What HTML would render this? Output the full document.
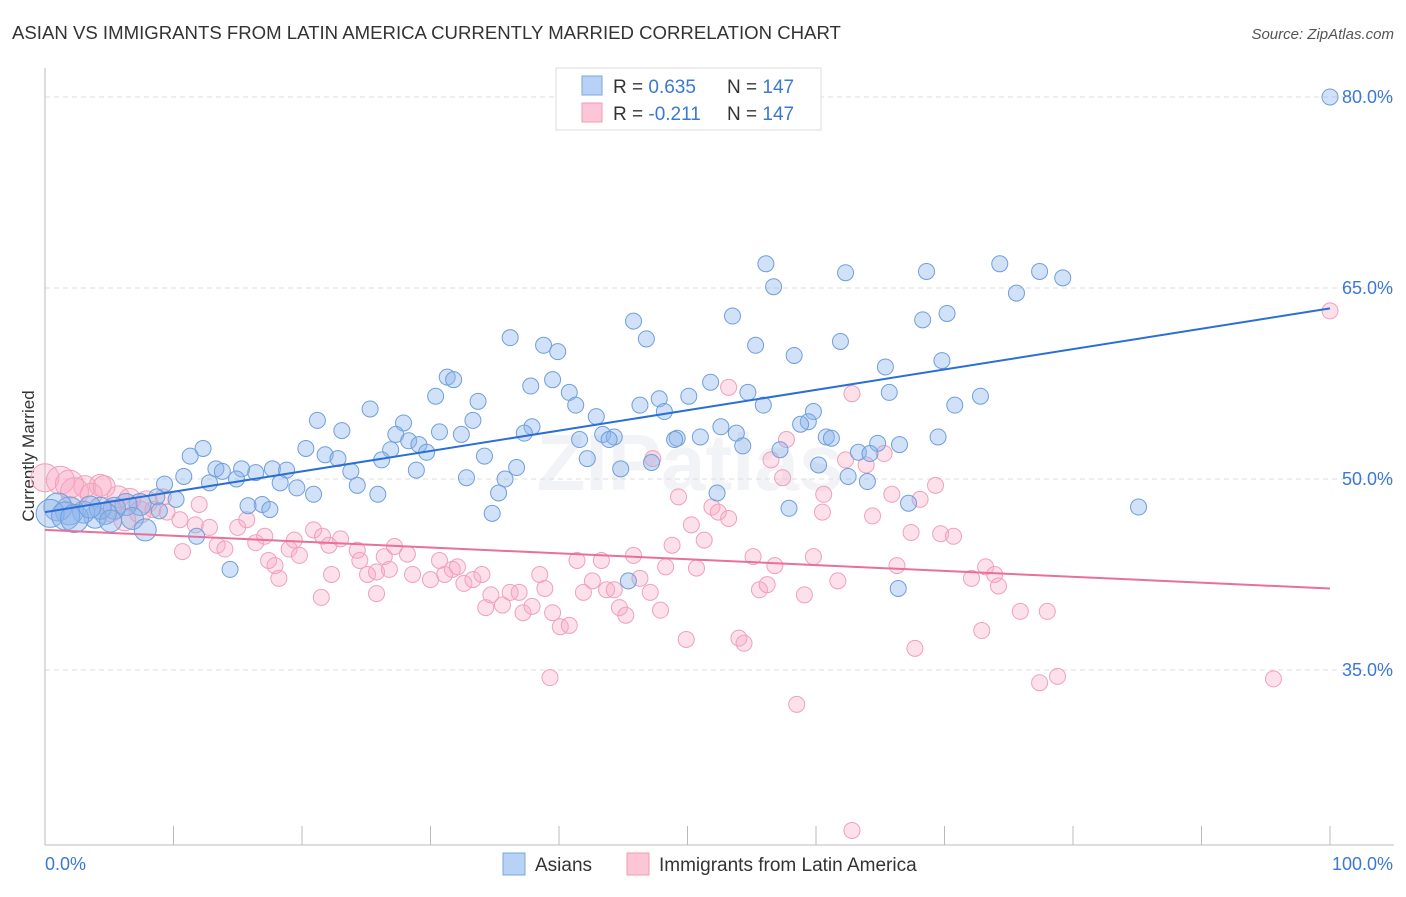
<!DOCTYPE html>
<html><head><meta charset="utf-8"><style>
body{margin:0;background:#fff;font-family:"Liberation Sans",sans-serif;}
svg text{font-family:"Liberation Sans",sans-serif;}
</style></head><body>
<svg id="chart" width="1406" height="892">
<text x="12" y="39" font-size="18.6" fill="#333">ASIAN VS IMMIGRANTS FROM LATIN AMERICA CURRENTLY MARRIED CORRELATION CHART</text>
<text x="1394" y="39" font-size="15" fill="#555" font-style="italic" text-anchor="end">Source: ZipAtlas.com</text>
<text x="34" y="456" font-size="17" fill="#333" text-anchor="middle" transform="rotate(-90 34 456)">Currently Married</text>
<text x="690" y="490" font-size="80" fill="#d8dde6" opacity="0.35" text-anchor="middle" font-weight="bold">ZIPatlas</text>
<g id="grid"></g><g id="pts"></g><g id="lines"></g>
<g>
<rect x="556" y="68" width="265" height="62" fill="#fff" stroke="#ddd"/>
<rect x="582" y="76" width="20" height="19" fill="#b8d2f5" stroke="#7aa5e0"/>
<rect x="582" y="103" width="20" height="19" fill="#fcc6d6" stroke="#f09ab5"/>
<text x="613" y="93" font-size="19" fill="#333">R = <tspan fill="#3a78d4">0.635</tspan></text>
<text x="727" y="93" font-size="19" fill="#333">N = <tspan fill="#3a78d4">147</tspan></text>
<text x="613" y="120" font-size="19" fill="#333">R = <tspan fill="#3a78d4">-0.211</tspan></text>
<text x="727" y="120" font-size="19" fill="#333">N = <tspan fill="#3a78d4">147</tspan></text>
</g>
<g>
<rect x="503" y="853" width="22" height="22" fill="#b8d2f5" stroke="#7aa5e0"/>
<text x="535" y="871" font-size="19" fill="#333">Asians</text>
<rect x="627" y="853" width="22" height="22" fill="#fcc6d6" stroke="#f09ab5"/>
<text x="659" y="871" font-size="19" fill="#333">Immigrants from Latin America</text>
</g>
</svg>
<script>
const yTicks=[80,65,50,35];
const xTickLabels=["0.0%","100.0%"];
const blueX=[100,56.1,62.3,68.6,74.3,77.4,79.2,56.7,75.6,45.8,53.5,68.3,70.2,36.2,46.8,38.8,39.9,55.3,61.9,58.3,69.8,65.4,31.3,31.8,39.5,37.8,51.8,40.8,30.4,33.7,54.7,50.1,47.8,46.3,72.8,65.7,25.3,41.3,55.9,70.8,48.2,42.9,21.2,27.9,33.3,59.8,59.4,58.8,37.9,52.6,23.1,30.7,37.3,32.4,27.3,43.4,44.3,49.2,51.0,53.8,60.8,61.2,69.5,12.3,20.3,28.3,29.1,41.6,43.9,49.0,64.8,66.5,11.3,21.8,26.9,29.7,54.3,57.2,63.3,64.2,22.8,26.2,34.2,42.2,47.2,60.2,10.8,13.3,13.8,15.3,16.4,17.7,18.8,23.8,28.9,32.8,36.7,44.8,62.5,64.0,12.8,14.9,18.3,19.6,24.3,35.8,9.3,20.9,25.9,35.3,52.3,10.2,8.7,16.9,17.5,15.8,67.2,85.1,57.9,34.8,8.9,7.4,6.3,5.4,4.7,3.9,3.0,1.9,1.0,0.4,1.6,2.3,4.3,6.8,7.8,5.1,3.5,11.8,14.4,45.4,66.4];
const blueY=[80.0,66.9,66.2,66.3,66.9,66.3,65.8,65.1,64.6,62.4,62.8,62.5,63.0,61.1,61.0,60.5,60.0,60.5,60.8,59.7,59.3,58.8,58.0,57.8,57.8,57.3,57.6,56.8,56.5,56.1,56.8,56.5,56.3,55.8,56.5,56.8,55.5,55.8,55.8,55.8,55.3,54.9,54.6,54.4,54.6,55.3,54.5,54.3,54.1,54.1,53.8,53.7,53.6,53.5,53.5,53.5,53.3,53.2,53.3,53.6,53.3,53.2,53.3,52.4,52.4,53.0,52.7,53.1,53.1,53.1,52.8,52.7,51.8,51.9,52.3,52.1,52.6,52.3,52.1,52.0,51.6,51.5,51.8,51.6,51.3,51.1,50.2,50.8,50.6,50.8,50.5,50.8,50.7,50.6,50.7,50.1,50.9,50.8,50.2,49.8,49.7,50.0,49.7,49.3,49.5,50.0,49.6,48.8,48.8,48.9,48.9,48.4,48.6,48.0,47.6,47.9,48.1,47.8,47.7,47.3,47.5,48.0,48.0,47.7,47.3,47.0,47.4,47.5,47.8,47.3,47.1,46.9,47.7,46.9,46.0,46.7,47.8,45.5,42.9,42.0,41.4];
const pinkX=[100,53.2,62.8,57.7,47.3,56.5,62.3,65.3,63.9,0,1.2,1.9,3.1,4.3,2.3,3.6,4.6,5.7,6.6,7.9,8.4,7.4,5.1,6.2,9.5,10.5,11.7,10.7,12.8,13.4,14.0,15.0,15.7,16.4,17.1,17.4,17.9,18.2,19.0,19.4,19.8,20.9,21.6,22.1,22.3,23.0,21.5,24.3,24.5,25.1,25.8,26.4,26.8,27.2,25.8,28.2,28.6,30.0,30.7,31.1,31.7,32.1,32.6,33.3,34.0,34.3,34.7,35.6,36.2,36.9,37.2,37.9,38.5,38.9,39.5,40.1,40.8,39.3,41.4,41.9,42.6,43.3,43.7,44.3,44.7,45.2,45.8,46.3,47.1,47.9,48.3,48.8,49.3,49.9,50.3,50.7,51.3,51.9,52.4,53.2,54.0,54.4,55.1,55.6,56.2,56.8,57.4,58.5,59.1,59.8,60.5,60.6,61.7,62.8,64.4,65.9,66.3,67.4,67.7,68.1,69.3,69.7,70.7,72.1,72.9,73.2,73.9,74.2,75.9,77.4,78.0,78.8,95.6,12.0,9.2];
const pinkY=[63.2,57.2,56.7,53.1,51.6,51.5,51.5,52.0,51.1,50.1,49.9,49.6,49.4,49.5,49.0,48.8,49.4,48.6,48.4,48.2,47.6,47.4,47.5,46.8,47.4,46.8,46.4,44.3,46.2,44.8,44.5,46.2,46.8,45.0,45.5,43.6,43.2,42.2,44.5,45.2,44.0,46.0,45.5,44.8,42.5,45.3,40.7,44.4,43.6,42.5,42.7,43.9,42.9,44.7,41.0,44.1,42.5,42.1,43.6,42.5,42.9,43.1,41.8,42.1,42.5,39.9,40.9,40.1,41.1,41.1,39.5,40.0,42.5,41.4,39.5,38.4,38.5,34.4,43.6,41.1,42.0,43.6,41.3,41.3,39.9,39.3,44.0,42.2,41.1,39.7,43.1,44.8,48.6,37.4,46.4,43.0,45.2,47.8,47.4,46.9,37.5,37.1,43.9,41.3,41.7,43.2,50.1,32.3,40.9,43.9,47.4,48.8,42.0,22.4,47.1,48.8,43.2,45.8,36.7,48.4,49.5,45.7,45.5,42.2,38.1,43.1,42.5,41.6,39.6,34.0,39.6,34.5,34.3,48.0,48.6];
const blueLine=[47.4,63.4];
const pinkLine=[46.0,41.4];
const NS="http://www.w3.org/2000/svg";
const X0=45,X1=1330,YT=97,PX=191/15;
const sx=v=>X0+(X1-X0)*v/100;
const sy=v=>YT+(80-v)*PX;
function mk(tag,attrs,parent){const e=document.createElementNS(NS,tag);for(const k in attrs)e.setAttribute(k,attrs[k]);parent.appendChild(e);return e;}
const grid=document.getElementById('grid');
yTicks.forEach(t=>{
 const l=mk('line',{x1:X0,x2:1394,y1:sy(t),y2:sy(t),stroke:'#ddd','stroke-dasharray':'5,4'},grid);
 
 
 const tx=mk('text',{x:1393,y:sy(t)+6,'font-size':18,fill:'#3a78d4','text-anchor':'end'},grid);
 tx.textContent=t.toFixed(1)+'%';
 
 
});
const ax=mk('line',{x1:X0,x2:X0,y1:68,y2:845,stroke:'#bbb'},grid);


const bx=mk('line',{x1:X0,x2:1394,y1:845,y2:845,stroke:'#bbb'},grid);


for(let i=0;i<=10;i++){
 const tk=mk('line',{x1:sx(i*10),x2:sx(i*10),y1:826,y2:845,stroke:'#bbb'},grid);
 
 
}
const xl0=mk('text',{x:45,y:870,'font-size':18,fill:'#3a78d4'},grid);xl0.textContent=xTickLabels[0];


const xl1=mk('text',{x:1393,y:870,'font-size':18,fill:'#3a78d4','text-anchor':'end'},grid);xl1.textContent=xTickLabels[1];


const pts=document.getElementById('pts');
const rad=x=>x<3?14:x<8?11:8;
pinkX.forEach((x,i)=>{
 const c=mk('circle',{cx:sx(x),cy:sy(pinkY[i]),r:rad(x),fill:'rgba(248,170,195,0.35)',stroke:'#f0a0ba','stroke-width':1},pts);
 
 
});
blueX.forEach((x,i)=>{
 const c=mk('circle',{cx:sx(x),cy:sy(blueY[i]),r:rad(x),fill:'rgba(140,180,235,0.4)',stroke:'#6f9fdc','stroke-width':1},pts);
 
 
});
const lines=document.getElementById('lines');
const bl=mk('line',{x1:sx(0),y1:sy(blueLine[0]),x2:sx(100),y2:sy(blueLine[1]),stroke:'#2a6fd6','stroke-width':2},lines);


const pl=mk('line',{x1:sx(0),y1:sy(pinkLine[0]),x2:sx(100),y2:sy(pinkLine[1]),stroke:'#e8709a','stroke-width':2},lines);


</script>
</body></html>
